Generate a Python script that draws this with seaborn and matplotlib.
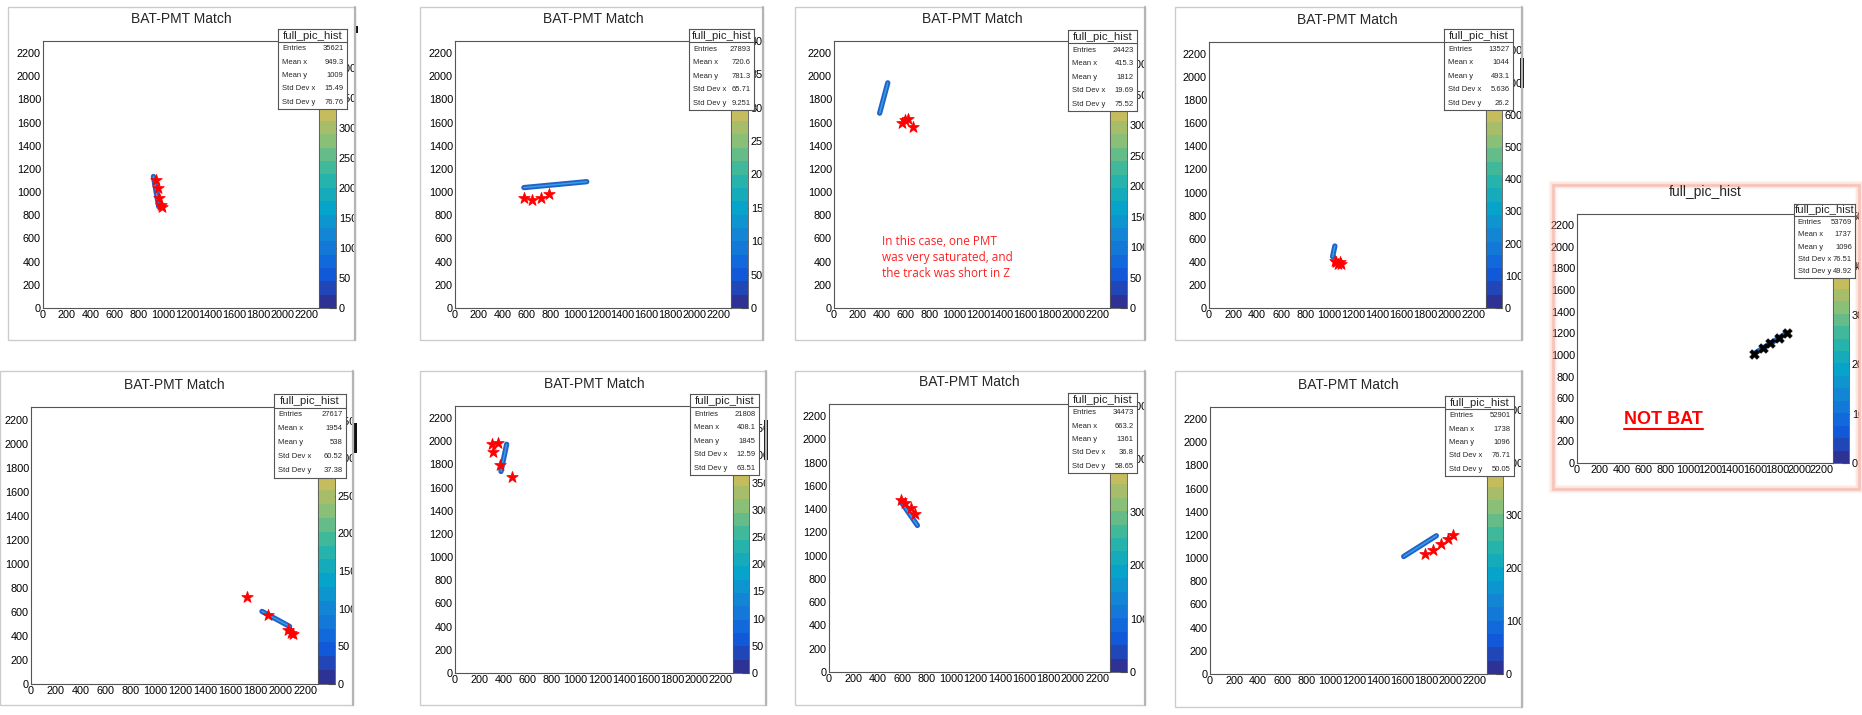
import numpy as np
import matplotlib
matplotlib.use("Agg")
import matplotlib.pyplot as plt
from matplotlib.colors import LinearSegmentedColormap, ListedColormap, Normalize
from matplotlib.cm import ScalarMappable
from matplotlib.patches import Rectangle
from matplotlib.lines import Line2D
from matplotlib.ticker import MultipleLocator
from matplotlib.transforms import Bbox, TransformedBbox
import seaborn as sns

# ---------------------------
# data
titles = ["BAT-PMT Match"] * 8 + ["full_pic_hist"]

entries = ["35621", "27893", "24423", "13527", "27617", "21808", "34473", "52901", "53769"]
mean_x = ["949.3", "720.6", "415.3", "1044", "1954", "408.1", "663.2", "1738", "1737"]
mean_y = ["1009", "781.3", "1812", "493.1", "538", "1845", "1361", "1096", "1096"]
std_x = ["15.49", "65.71", "19.69", "5.636", "60.52", "12.59", "36.8", "76.71", "76.51"]
std_y = ["76.76", "9.251", "75.52", "26.2", "37.38", "63.51", "58.65", "50.05", "49.92"]

z_max = [445, 400, 438, 826, 368, 491, 503, 505, 50.5]
z_step = [50, 50, 50, 100, 50, 50, 100, 100, 10]

# blue track (start / end of the fitted segment)
track_x = [[922, 966], [575, 1100], [381, 449], [1028, 1047], [1854, 2076],
           [381, 428], [590, 725], [1611, 1883], [1600, 1885]]
track_y = [[1135, 875], [1039, 1090], [1681, 1943], [445, 537], [604, 479],
           [1739, 1974], [1465, 1260], [1014, 1193], [1015, 1200]]

# PMT positions (stars), last panel uses crosses
pmt_x = [[947, 962, 968, 985, 993],
         [575, 644, 714, 783],
         [564, 590, 614, 663],
         [1045, 1060, 1075, 1088, 1097],
         [1738, 1905, 2065, 2085, 2100],
         [306, 353, 311, 372, 469],
         [587, 620, 676, 704],
         [1786, 1856, 1925, 1981, 2022],
         [1597, 1672, 1737, 1815, 1887]]
pmt_y = [[1106, 1035, 945, 885, 870],
         [947, 936, 947, 988],
         [1600, 1620, 1630, 1560],
         [410, 395, 385, 400, 382],
         [723, 570, 445, 425, 415],
         [1974, 1983, 1905, 1796, 1695],
         [1479, 1456, 1413, 1356],
         [1037, 1066, 1121, 1167, 1202],
         [1012, 1065, 1112, 1158, 1205]]

note_text = "In this case, one PMT\nwas very saturated, and\nthe track was short in Z"

# ---------------------------
# layout of the screenshot tiles, in pixels (x0, y0, x1, y1), y from the top
W, H = 1862, 715
layout = [
    dict(frame=(8, 7, 355, 340), ax=(43, 41, 319, 308), cb=17, stats=(278, 29, 347, 109)),
    dict(frame=(420, 7, 763, 340), ax=(455, 41, 731, 308), cb=17, stats=(689, 29, 754, 110)),
    dict(frame=(795, 7, 1145, 340), ax=(834, 41, 1110, 308), cb=17, stats=(1068, 30, 1137, 111)),
    dict(frame=(1175, 7, 1522, 340), ax=(1209, 42, 1486, 308), cb=16, stats=(1444, 29, 1513, 110)),
    dict(frame=(0, 371, 353, 705), ax=(31, 407, 318, 684), cb=17, stats=(274, 394, 346, 478)),
    dict(frame=(420, 371, 766, 705), ax=(455, 406, 733, 673), cb=16, stats=(690, 394, 759, 475)),
    dict(frame=(795, 371, 1145, 705), ax=(829, 404, 1110, 672), cb=17, stats=(1068, 393, 1137, 473)),
    dict(frame=(1175, 371, 1522, 707), ax=(1210, 407, 1487, 674), cb=16, stats=(1445, 396, 1514, 476)),
    dict(frame=(1553, 185, 1859, 489), ax=(1577, 214, 1833, 463), cb=16, stats=(1794, 204, 1855, 278)),
]
# small dark leftovers of the screenshot edges (x0, y0, x1, y1)
edge_bits = [(354, 26, 358, 33), (750, 45, 754, 70), (1520, 58, 1524, 88),
             (353, 423, 357, 453), (764, 420, 768, 460)]


def rect(x0, y0, x1, y1):
    return [x0 / W, 1 - y1 / H, (x1 - x0) / W, (y1 - y0) / H]


# ROOT kBird palette, 20 contour bands
stops = [0.0, 0.125, 0.25, 0.375, 0.5, 0.625, 0.75, 0.875, 1.0]
red = [0.2082, 0.0592, 0.0780, 0.0232, 0.1802, 0.5301, 0.8186, 0.9956, 0.9764]
green = [0.1664, 0.3599, 0.5041, 0.6419, 0.7178, 0.7492, 0.7328, 0.7862, 0.9832]
blue = [0.5293, 0.8684, 0.8385, 0.7914, 0.6425, 0.4662, 0.3499, 0.1968, 0.0539]
bird = LinearSegmentedColormap.from_list("bird", list(zip(stops, zip(red, green, blue))))
cmap = ListedColormap(bird(np.linspace(0.02, 0.98, 20)))

sns.set_style("white")
plt.rcParams["font.family"] = ["Liberation Sans", "DejaVu Sans"]

fig = plt.figure(figsize=(W / 100, H / 100), dpi=100)
fig.patch.set_facecolor("white")

for i, lay in enumerate(layout):
    fx0, fy0, fx1, fy1 = lay["frame"]
    if i == 8:
        # soft reddish shadow around the "NOT BAT" tile
        for lw, a in [(6, 0.08), (4, 0.15), (2, 0.35)]:
            fig.add_artist(Rectangle((fx0 / W, 1 - fy1 / H), (fx1 - fx0) / W, (fy1 - fy0) / H,
                                     transform=fig.transFigure, fill=False,
                                     edgecolor="#f08a6e", lw=lw, alpha=a))
    else:
        fig.add_artist(Rectangle((fx0 / W, 1 - fy1 / H), (fx1 - fx0) / W, (fy1 - fy0) / H,
                                 transform=fig.transFigure, fill=False,
                                 edgecolor="#cccccc", lw=1.0))
        fig.add_artist(Line2D([fx1 / W] * 2, [1 - fy1 / H, 1 - fy0 / H],
                              transform=fig.transFigure, color="#b5b5b5", lw=1.6))

    ax0, ay0, ax1, ay1 = lay["ax"]
    ax = fig.add_axes(rect(ax0, ay0, ax1, ay1))
    ax.set_facecolor("white")

    # the track and the PMT hits
    sns.lineplot(x=track_x[i], y=track_y[i], ax=ax, color="#1f62c9", linewidth=3.8,
                 sort=False, solid_capstyle="round", zorder=2)
    sns.lineplot(x=track_x[i], y=track_y[i], ax=ax, color="#3a9ee0", linewidth=1.1,
                 sort=False, solid_capstyle="round", zorder=2)
    if i == 8:
        sns.scatterplot(x=pmt_x[i], y=pmt_y[i], ax=ax, marker="X", s=48, color="black",
                        edgecolor="black", linewidth=0.4, zorder=3)
    else:
        sns.scatterplot(x=pmt_x[i], y=pmt_y[i], ax=ax, marker="*", s=75, color="#ff0000",
                        edgecolor="#ff0000", linewidth=0.6, zorder=3)

    ax.set_xlim(0, 2304)
    ax.set_ylim(0, 2304)
    ax.set_xlabel("")
    ax.set_ylabel("")
    ax.xaxis.set_major_locator(MultipleLocator(200))
    ax.yaxis.set_major_locator(MultipleLocator(200))
    ax.xaxis.set_minor_locator(MultipleLocator(50))
    ax.yaxis.set_minor_locator(MultipleLocator(50))
    ax.tick_params(which="both", direction="in", top=False, right=False,
                   colors="#333333", labelcolor="black", width=0.6)
    ax.tick_params(which="major", length=5.5, labelsize=7.8, pad=1.5)
    ax.tick_params(which="minor", length=2.8)
    for s in ax.spines.values():
        s.set_linewidth(0.8)
        s.set_color("#555555")

    # title
    fig.text(((ax0 + ax1) / 2) / W, 1 - (ay0 - 22) / H, titles[i], ha="center", va="center",
             fontsize=10)

    # palette axis
    cax = fig.add_axes(rect(ax1, ay0, ax1 + lay["cb"], ay1))
    sm = ScalarMappable(norm=Normalize(0, z_max[i]), cmap=cmap)
    cb = fig.colorbar(sm, cax=cax)
    cb.outline.set_linewidth(0.6)
    cb.outline.set_edgecolor("#555555")
    cb.set_ticks(np.arange(0, z_max[i] + 1, z_step[i]))
    cax.tick_params(direction="in", length=5, width=0.8, labelsize=7.8, pad=2,
                    colors="#222222", labelcolor="black")
    clip = TransformedBbox(Bbox.from_extents(fx0 / W, 1 - fy1 / H, fx1 / W, 1 - fy0 / H),
                           fig.transFigure)
    for t in cax.yaxis.get_major_ticks():
        for lab in (t.label1, t.label2):
            lab.set_clip_box(clip)
            lab.set_clip_on(True)

    # stats box
    sx0, sy0, sx1, sy1 = lay["stats"]
    sa = fig.add_axes(rect(sx0, sy0, sx1, sy1), zorder=10)
    sa.set_xticks([])
    sa.set_yticks([])
    sa.set_facecolor("white")
    for s in sa.spines.values():
        s.set_linewidth(0.8)
        s.set_color("#555555")
    hdr = 0.165
    sa.axhline(1 - hdr, color="#555555", lw=0.8)
    sa.text(0.5, 1 - hdr / 2, "full_pic_hist", ha="center", va="center", fontsize=8.2,
            transform=sa.transAxes)
    labels = ["Entries", "Mean x", "Mean y", "Std Dev x", "Std Dev y"]
    values = [entries[i], mean_x[i], mean_y[i], std_x[i], std_y[i]]
    for j, (lab, val) in enumerate(zip(labels, values)):
        yy = 1 - hdr - (j + 0.5) * (1 - hdr) / 5
        sa.text(0.06, yy, lab, ha="left", va="center", fontsize=5.5, transform=sa.transAxes)
        sa.text(0.95, yy, val, ha="right", va="center", fontsize=5.5, transform=sa.transAxes)

    if i == 2:
        ax.text(400, 630, note_text, color="#ff2020", fontsize=8.5, va="top", ha="left",
                family=["Open Sans", "DejaVu Sans"], linespacing=1.3)
    if i == 8:
        nb = ax.text(776, 400, "NOT BAT", color="#ff0000", fontsize=13, fontweight="bold",
                     ha="center", va="center")
        fig.canvas.draw()
        bb = nb.get_window_extent()
        fig.add_artist(Line2D([bb.x0 / W, bb.x1 / W], [(bb.y0 - 1) / H] * 2,
                              transform=fig.transFigure, color="#ff0000", lw=1.5))

for bx0, by0, bx1, by1 in edge_bits:
    fig.add_artist(Rectangle((bx0 / W, 1 - by1 / H), (bx1 - bx0) / W, (by1 - by0) / H,
                             transform=fig.transFigure, color="#111111", lw=0))

fig.savefig("out.png", dpi=100, facecolor="white")
